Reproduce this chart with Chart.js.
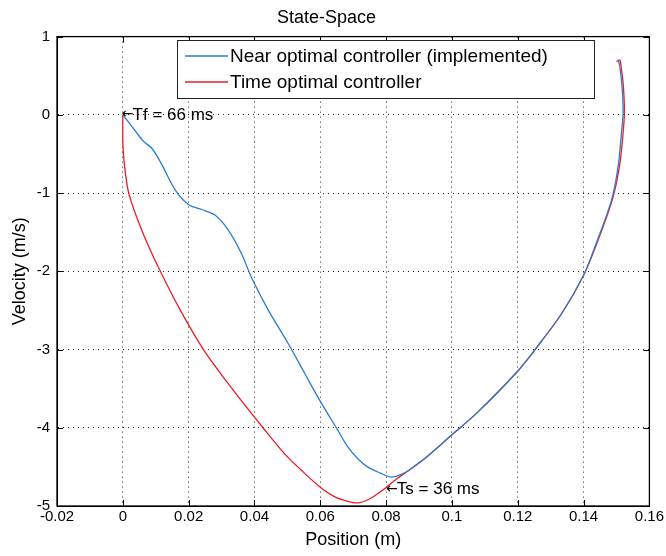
<!DOCTYPE html>
<html>
<head>
<meta charset="utf-8">
<script src="https://cdn.jsdelivr.net/npm/chart.js@4"></script>
<style>
  html, body { margin: 0; padding: 0; background: #fff; }
  #wrap { width: 666px; height: 556px; }
</style>
</head>
<body>
<div id="wrap"><canvas id="stateChart" width="666" height="556"></canvas></div>
<script>
// axis ticks
const xTicks = [-0.02, 0, 0.02, 0.04, 0.06, 0.08, 0.1, 0.12, 0.14, 0.16];
const yTicks = [-5, -4, -3, -2, -1, 0, 1];

// near optimal controller (implemented)
const nearX = [0, 0.0028, 0.0063, 0.0089, 0.0119, 0.0159, 0.02, 0.024, 0.028, 0.032, 0.036, 0.039, 0.0441, 0.0502,
  0.0552, 0.0597, 0.0653, 0.0683, 0.0715, 0.0743, 0.0783, 0.0814, 0.0844, 0.0867, 0.0924, 0.1, 0.1076, 0.1199,
  0.126, 0.1335, 0.1399, 0.1435, 0.1485, 0.1505, 0.1515, 0.152, 0.1517, 0.151, 0.1505];
const nearY = [0, -0.15, -0.34, -0.43, -0.64, -0.96, -1.15, -1.21, -1.28, -1.47, -1.77, -2.07, -2.49, -2.92,
  -3.30, -3.64, -4.03, -4.24, -4.40, -4.50, -4.58, -4.63, -4.60, -4.55, -4.37, -4.09, -3.81, -3.28,
  -2.96, -2.53, -2.06, -1.68, -1.09, -0.66, -0.235, 0.02, 0.36, 0.62, 0.705];

// time optimal controller
const timeX = [0, 0, 0.0004, 0.0018, 0.006, 0.0114, 0.0175, 0.0245, 0.0332, 0.0426,
  0.0491, 0.0552, 0.0597, 0.0643, 0.0683, 0.0715, 0.0745, 0.0772, 0.0798, 0.083, 0.0864, 0.0924, 0.1, 0.1076,
  0.1199, 0.126, 0.1335, 0.1399, 0.1437, 0.1487, 0.1509, 0.152, 0.1524, 0.1521, 0.1514, 0.151, 0.15];
const timeY = [0, -0.32, -0.6, -1.0, -1.5, -2.0, -2.5, -3.0, -3.5, -4.0,
  -4.33, -4.58, -4.75, -4.88, -4.94, -4.96, -4.92, -4.85, -4.77, -4.66, -4.56, -4.37, -4.09, -3.81,
  -3.28, -2.96, -2.53, -2.06, -1.68, -1.09, -0.66, -0.235, 0.02, 0.36, 0.62, 0.70, 0.68];

// text annotations: [x, y, label]
const notes = [
  [0, 0, 'Tf = 66 ms'],
  [0.0803, -4.79, 'Ts = 36 ms']
];

const toPoints = (xs, ys) => xs.map((x, i) => ({ x: x, y: ys[i] }));

const FONT = '"Liberation Sans", Arial, sans-serif';

// frame, inward tick marks, legend box and annotations
const decorPlugin = {
  id: 'decor',
  afterDatasetsDraw(chart) {
    const ctx = chart.ctx;
    const area = chart.chartArea;
    const xs = chart.scales.x, ys = chart.scales.y;
    ctx.save();

    // inward tick marks
    ctx.strokeStyle = '#000';
    ctx.lineWidth = 1;
    ctx.beginPath();
    xTicks.forEach(v => {
      const px = Math.round(xs.getPixelForValue(v)) + 0.5;
      ctx.moveTo(px, area.bottom); ctx.lineTo(px, area.bottom - 6);
      ctx.moveTo(px, area.top); ctx.lineTo(px, area.top + 6);
    });
    yTicks.forEach(v => {
      const py = Math.round(ys.getPixelForValue(v)) + 0.5;
      ctx.moveTo(area.left, py); ctx.lineTo(area.left + 6, py);
      ctx.moveTo(area.right, py); ctx.lineTo(area.right - 6, py);
    });
    ctx.stroke();

    // frame
    ctx.lineWidth = 1.3;
    ctx.strokeRect(area.left, area.top, area.right - area.left, area.bottom - area.top);

    // annotations with a leading arrow
    ctx.fillStyle = '#000';
    ctx.textAlign = 'left';
    ctx.textBaseline = 'middle';
    notes.forEach(n => {
      const px = xs.getPixelForValue(n[0]);
      const py = ys.getPixelForValue(n[1]);
      ctx.font = '14px "DejaVu Sans", sans-serif';
      ctx.fillText('\u2190', px - 1, py);
      const aw = ctx.measureText('\u2190').width;
      ctx.font = '17px ' + FONT;
      ctx.fillText(n[2], px - 2 + aw, py);
    });

    // legend
    const bx = 177, by = 40, bw = 417, bh = 58;
    ctx.fillStyle = '#fff';
    ctx.fillRect(bx, by, bw, bh);
    ctx.lineWidth = 1;
    ctx.strokeStyle = '#222';
    ctx.strokeRect(bx + 0.5, by + 0.5, bw, bh);
    ctx.font = '19px ' + FONT;
    chart.data.datasets.forEach((ds, i) => {
      const ly = by + 16 + i * 26;
      ctx.strokeStyle = ds.borderColor;
      ctx.lineWidth = 1.3;
      ctx.beginPath();
      ctx.moveTo(bx + 8, ly); ctx.lineTo(bx + 51, ly);
      ctx.stroke();
      ctx.fillStyle = '#000';
      ctx.fillText(ds.label, bx + 53, ly + 1);
    });
    ctx.restore();
  }
};

new Chart(document.getElementById('stateChart'), {
  type: 'scatter',
  data: {
    datasets: [
      {
        label: 'Near optimal controller (implemented)',
        data: toPoints(nearX, nearY),
        showLine: true,
        borderColor: '#2a7ccc',
        borderWidth: 1.3,
        pointRadius: 0,
        tension: 0.3
      },
      {
        label: 'Time optimal controller',
        data: toPoints(timeX, timeY),
        showLine: true,
        borderColor: '#ee1c24',
        borderWidth: 1.3,
        pointRadius: 0,
        tension: 0.3
      }
    ]
  },
  options: {
    responsive: false,
    animation: false,
    layout: { padding: { top: 0, right: 13, bottom: 0, left: 0 } },
    plugins: {
      legend: { display: false },
      tooltip: { enabled: false },
      title: {
        display: true,
        text: 'State-Space',
        color: '#000',
        font: { family: FONT, size: 18, weight: 'normal' },
        padding: { top: 7, bottom: 8 }
      }
    },
    scales: {
      x: {
        type: 'linear',
        min: -0.02,
        max: 0.16,
        afterBuildTicks: s => { s.ticks = xTicks.map(v => ({ value: v })); },
        afterFit: s => { s.height = 50; },
        grid: { color: '#222', lineWidth: 1, drawTicks: false },
        border: { display: true, color: '#000', dash: [1, 4] },
        ticks: {
          color: '#000',
          padding: 2,
          maxRotation: 0,
          autoSkip: false,
          font: { family: FONT, size: 15 },
          callback: v => String(v)
        },
        title: {
          display: true,
          text: 'Position (m)',
          color: '#000',
          font: { family: FONT, size: 18 },
          padding: { top: 0, bottom: 5 }
        }
      },
      y: {
        type: 'linear',
        min: -5,
        max: 1,
        afterBuildTicks: s => { s.ticks = yTicks.map(v => ({ value: v })); },
        afterFit: s => { s.width = 57; },
        grid: { color: '#222', lineWidth: 1, drawTicks: false },
        border: { display: true, color: '#000', dash: [1, 4] },
        ticks: {
          color: '#000',
          padding: 7,
          autoSkip: false,
          font: { family: FONT, size: 15 },
          callback: v => String(v)
        },
        title: {
          display: true,
          text: 'Velocity (m/s)',
          color: '#000',
          font: { family: FONT, size: 18 },
          padding: { top: 9, bottom: 0 }
        }
      }
    }
  },
  plugins: [decorPlugin]
});
</script>
</body>
</html>
